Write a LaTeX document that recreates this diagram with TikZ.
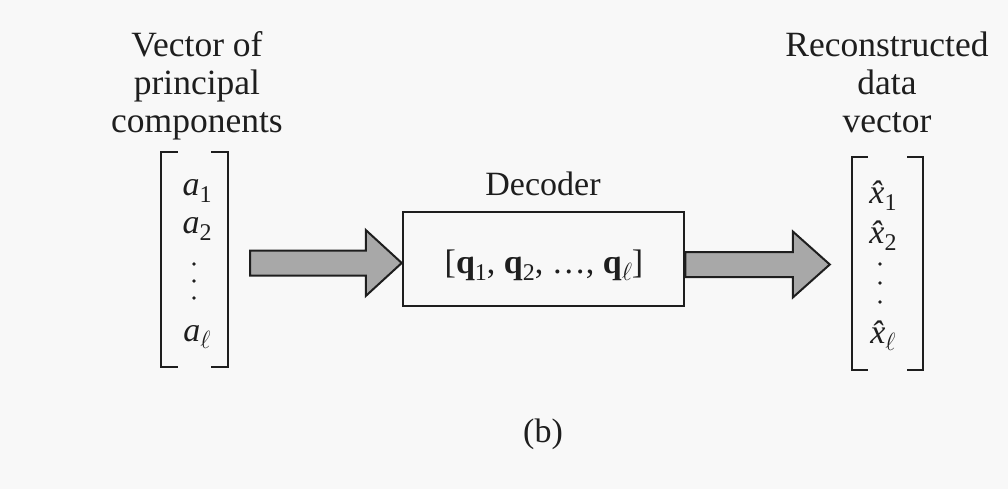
\documentclass[tikz,border=0pt]{standalone}
\usepackage{fontspec}
\setmainfont{Liberation Serif}
\usetikzlibrary{calc}
\definecolor{ink}{HTML}{1E1E1E}
\definecolor{paper}{HTML}{F8F8F8}
\definecolor{arrowfill}{HTML}{A8A8A8}
\newcommand\sbs[1]{\raisebox{-0.22em}{\fontsize{24}{24}\selectfont\upshape #1}}
\tikzset{
  lbl/.style={font=\fontsize{35.5}{38}\selectfont, text=ink, align=center, inner sep=0pt, anchor=north},
  ent/.style={font=\fontsize{34}{38}\selectfont, text=ink, inner sep=0pt, anchor=base},
  brk/.style={draw=ink, line width=2.5pt},
  vecbox/.style={inner sep=0pt, draw=none},
  fatarrow/.style={draw=ink, line width=2pt, fill=arrowfill, line join=miter},
  decbox/.style={draw=ink, line width=2.5pt, minimum width=281pt, minimum height=94pt, inner sep=0pt},
  vdot/.style={fill=ink},
}
\begin{document}
\begin{tikzpicture}[x=1pt,y=-1pt]
\useasboundingbox (0,0) rectangle (1008,489);
\fill[paper] (0,0) rectangle (1008,489);

% titles
\node[lbl] (ltitle) at (197,31) {Vector of\\principal\\components};
\node[lbl] (rtitle) at (887,32) {Reconstructed\\data\\vector};

% left vector
\node[vecbox, minimum width=67pt, minimum height=215pt] (lvec) at (194.5,259.5) {};
\draw[brk] ($(lvec.north west)+(17,0)$) -- (lvec.north west) -- (lvec.south west) -- ($(lvec.south west)+(17,0)$);
\draw[brk] ($(lvec.north east)+(-17,0)$) -- (lvec.north east) -- (lvec.south east) -- ($(lvec.south east)+(-17,0)$);
\node[ent] (a1) at (197,195) {\itshape a\sbs{1}};
\node[ent] (a2) at (197,233) {\itshape a\sbs{2}};
\node[ent] (al) at (197,341) {\itshape a\sbs{$\ell$}};
\fill[vdot] (194,264) circle (1.9pt) (194,281) circle (1.9pt) (194,298) circle (1.9pt);

% decoder
\node[ent] (declbl) at (543,195) {Decoder};
\node[decbox] (dec) at (543.5,259) {};
\node[ent] (qv) at (544,273) {[\textbf{q}\sbs{1}, \textbf{q}\sbs{2}, …, \textbf{q}\sbs{$\ell$}]};

% right vector
\node[vecbox, minimum width=71pt, minimum height=213pt] (rvec) at (887.5,263.5) {};
\draw[brk] ($(rvec.north west)+(16,0)$) -- (rvec.north west) -- (rvec.south west) -- ($(rvec.south west)+(16,0)$);
\draw[brk] ($(rvec.north east)+(-16,0)$) -- (rvec.north east) -- (rvec.south east) -- ($(rvec.south east)+(-16,0)$);
\node[ent] (x1) at (883,203) {\itshape \^x\sbs{1}};
\node[ent] (x2) at (883,243) {\itshape \^x\sbs{2}};
\node[ent] (xl) at (883,343) {\itshape \^x\sbs{$\ell$}};
\fill[vdot] (880,264) circle (1.9pt) (880,283) circle (1.9pt) (880,302) circle (1.9pt);

% arrows
\coordinate (s1) at ($(lvec.east |- 0,263)+(22,0)$);
\coordinate (t1) at ($(dec.west |- 0,263)$);
\draw[fatarrow] ($(s1)+(0,-12.5)$) -- ($(t1)+(-36,-12.5)$) -- ($(t1)+(-36,-33)$) -- (t1)
  -- ($(t1)+(-36,33)$) -- ($(t1)+(-36,12.5)$) -- ($(s1)+(0,12.5)$) -- cycle;
\coordinate (s2) at ($(dec.east |- 0,264.5)$);
\coordinate (t2) at ($(rvec.west |- 0,264.5)+(-22,0)$);
\draw[fatarrow] ($(s2)+(0,-12.5)$) -- ($(t2)+(-37,-12.5)$) -- ($(t2)+(-37,-33)$) -- (t2)
  -- ($(t2)+(-37,33)$) -- ($(t2)+(-37,12.5)$) -- ($(s2)+(0,12.5)$) -- cycle;

% caption
\node[ent] (cap) at (543,442) {(b)};
\end{tikzpicture}
\end{document}
